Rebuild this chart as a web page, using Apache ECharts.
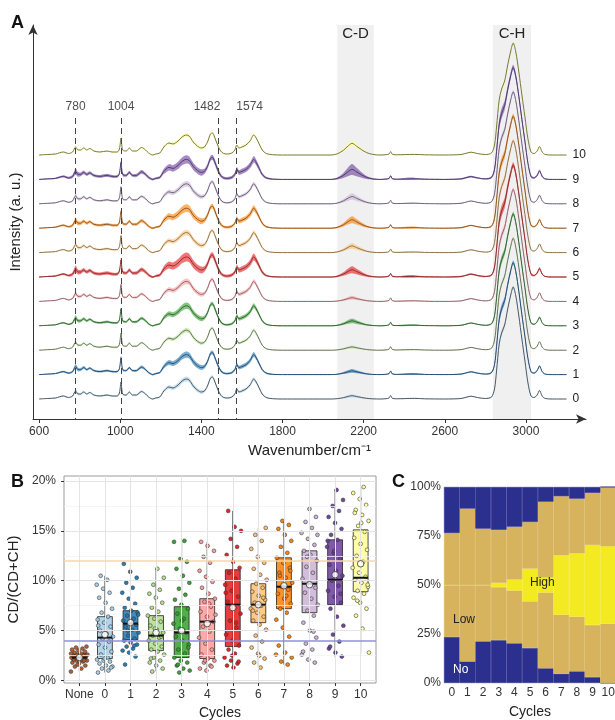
<!DOCTYPE html>
<html><head><meta charset="utf-8">
<script src="https://cdn.jsdelivr.net/npm/echarts@6/dist/echarts.min.js"></script>
<style>html,body{margin:0;padding:0;background:#fff}#c{width:615px;height:720px}</style>
</head><body><div id="c"></div>
<script>
const FONT = '"Liberation Sans", Arial, Helvetica, sans-serif';

// ---------------- Panel A data ----------------
const cycles = ['0','1','2','3','4','5','6','7','8','9','10'];
// [wavenumber, base intensity, C-D profile (0..1), spread]
const spectrumRows = [
[600,0,0,0.3],[640,0.5,0,0.4],[680,1,0,0.5],[720,3,0,0.8],[745,1.5,0,0.8],[765,3,0,1.2],
[780,8,0,2.5],[792,5,0,1.8],[805,5,0,1.5],[820,7,0,1.5],[835,5,0,1.2],[850,6.5,0,1.2],
[870,4,0,1],[900,3,0,1],[935,4,0,1.2],[960,3,0,1],[985,3,0,1],[996,6,0,1.2],[1004,17,0,1.5],
[1012,5,0,1.2],[1030,4,0,1],[1045,7,0,1.2],[1060,4,0,1],[1080,4,0,1.2],[1105,7.5,0,1.5],
[1125,5,0,1.2],[1140,2,0,1],[1160,0,0,0.8],[1175,1,0,0.8],[1195,2,0,1],[1215,8,0,2],
[1240,12,0,2.5],[1260,11,0,2.5],[1285,14,0,2.8],[1305,18,0,3],[1325,20,0,3.2],[1340,19,0,3],
[1360,13,0,2.8],[1380,9,0,2.5],[1400,7,0,2.5],[1415,8,0,2],[1430,13,0,2],[1445,21,0,2],
[1455,22,0,2],[1465,18,0,2.2],[1480,10,0,2],[1495,4,0,1.5],[1510,1.5,0,1],[1530,1,0,1],
[1550,2,0,1.2],[1565,5,0,1.5],[1575,10,0,1.8],[1585,7,0,1.8],[1600,8,0,2],[1620,10,0,2],
[1640,14,0,2.2],[1658,20,0,2.5],[1670,17,0,2.2],[1685,11,0,1.8],[1700,5,0,1.2],[1720,1.5,0,0.8],
[1750,0.3,0,0.5],[1800,0,0,0.4],[1900,0,0,0.4],[2000,0,0,0.4],[2040,0,0,0.4],[2070,0,0.1,0.4],
[2100,0,0.4,0.4],[2125,0,0.8,0.4],[2143,0,1,0.4],[2165,0,0.75,0.4],[2190,0,0.45,0.4],
[2215,0,0.2,0.4],[2245,0,0.05,0.4],[2280,0,0,0.4],[2310,0.3,0,0.4],[2325,1,0,0.5],
[2333,3.5,0,0.6],[2341,0.8,0,0.5],[2360,0.2,0,0.4],[2400,0.4,0,0.8],[2450,0.6,0,0.9],
[2500,0.2,0,0.5],[2600,0,0,0.4],[2680,0.5,0,0.5],[2710,2,0,0.6],[2730,2.8,0,0.6],
[2760,1.5,0,0.5],[2800,0.5,0,0.5],[2830,2,0,0.8],[2845,10,0,2],[2855,28,0,3.5],[2868,55,0,4],
[2880,66,0,4],[2895,74,0,3.5],[2910,90,0,3],[2925,104,0,2.5],[2937,112,0,2],[2950,103,0,2.5],
[2965,83,0,2.5],[2980,60,0,2.5],[2995,38,0,2],[3010,16,0,1.5],[3025,3,0,1],[3040,1.5,0,0.6],
[3055,4,0,0.8],[3067,8.5,0,1],[3080,3,0,0.6],[3095,0.5,0,0.4],[3130,0,0,0.3],[3200,0,0,0.3]
];
const cdPeakHeight = [3.3,3.7,3.3,5,3.7,7.3,6.7,8.5,7.3,10,11.7];
const cdSpread = [1.2,1.5,1.2,2,1.5,3,2.5,3,3,5,3];
const spreadScale = [0.8,1,0.7,1,0.9,1.4,0.9,1.2,0.9,1.3,0.7];
const traceSpacing = 24.4;
const markerBands = [780,1004,1482,1574];
const bandRegions = [['C-D',2070,2250],['C-H',2837,3025]];
const xTicksA = [600,1000,1400,1800,2200,2600,3000];

// ---------------- Panel B data ----------------
const groupNames = ['None','0','1','2','3','4','5','6','7','8','9','10'];
// [min, Q1, median, Q3, max] in %
const boxStats = [
[0.9,2.0,2.3,2.7,3.4],[0.8,2.2,4.3,6.4,10.5],[1.6,4.1,5.7,7.0,11.7],[0.9,3.0,4.5,6.5,11.2],
[0.8,2.3,4.8,7.4,14.0],[1.0,2.2,5.9,8.2,13.9],[1.3,3.4,7.6,11.1,17.0],[1.3,5.8,7.6,9.7,15.3],
[1.6,7.2,9.4,12.3,16.0],[1.8,6.8,9.7,13.0,17.2],[2.4,7.6,10.1,14.1,19.1],[2.8,8.9,10.3,15.1,19.4]
];
const groupMeans = [2.3,4.6,5.8,4.8,5.0,5.7,7.3,7.6,9.5,9.6,10.6,11.7];
const groupPoints = [
[0.9,1.2,1.4,1.5,1.7,1.8,1.9,2.0,2.0,2.1,2.1,2.2,2.2,2.3,2.3,2.3,2.4,2.4,2.5,2.5,2.6,2.6,2.7,2.8,2.9,3.0,3.1,3.2,3.3,3.4,2.2,2.4,2.0,1.6,2.7],
[0.8,1.0,1.2,1.4,1.5,1.7,1.9,2.0,2.1,2.3,2.6,2.9,3.3,3.6,3.9,4.2,4.4,4.7,5.0,5.4,5.8,6.1,6.4,6.8,7.2,7.8,8.3,8.8,9.2,9.6,10.1,10.5,1.3,2.2,5.5],
[1.6,2.4,2.8,3.0,3.2,3.4,3.6,3.8,4.0,4.2,4.5,4.8,5.1,5.4,5.6,5.8,6.0,6.2,6.5,6.8,7.0,7.3,7.7,8.2,8.8,9.3,9.8,10.3,10.9,11.7,3.5,5.0,6.6],
[0.9,1.2,1.5,1.8,2.0,2.3,2.6,2.9,3.1,3.4,3.7,4.0,4.3,4.5,4.8,5.1,5.5,5.9,6.2,6.5,6.9,7.3,7.8,8.3,8.7,9.1,9.6,10.3,11.2,2.2,4.4,5.2],
[0.8,1.0,1.2,1.5,1.8,2.0,2.3,2.7,3.1,3.6,4.0,4.4,4.8,5.2,5.7,6.2,6.7,7.2,7.6,8.1,8.6,9.2,9.8,10.5,11.2,11.9,12.2,13.9,14.0,1.6,3.3,6.0],
[1.0,1.2,1.5,1.8,2.0,2.2,2.6,3.1,3.7,4.3,4.9,5.4,5.9,6.4,6.9,7.4,7.9,8.2,8.7,9.3,9.9,10.4,11.0,11.8,12.4,13.0,13.5,13.9,1.4,2.0,6.6,7.7],
[1.3,1.5,1.7,2.0,2.3,2.7,3.1,3.5,4.0,4.6,5.3,6.0,6.7,7.3,7.9,8.4,9.0,9.6,10.2,10.8,11.3,11.9,12.6,13.4,14.2,15.0,15.4,17.0,1.9,2.5,8.8,5.8],
[1.3,1.8,2.2,2.7,3.3,3.9,4.5,5.1,5.6,6.0,6.4,6.8,7.2,7.5,7.8,8.1,8.5,8.9,9.3,9.7,10.1,10.6,11.2,11.8,12.4,13.2,14.0,14.6,15.3,2.5,7.0,8.3],
[1.6,1.9,2.3,2.8,3.5,4.4,5.3,6.1,6.8,7.2,7.7,8.2,8.7,9.1,9.4,9.8,10.3,10.8,11.3,11.8,12.3,12.8,13.4,14.0,14.6,15.2,15.6,16.0,2.6,8.5,10.5,11.0],
[1.8,2.1,2.6,3.1,3.7,4.3,5.0,5.8,6.5,7.0,7.6,8.2,8.8,9.3,9.7,10.2,10.8,11.4,12.0,12.6,13.0,13.6,14.2,14.8,15.3,15.9,16.4,17.2,2.9,4.9,12.4,14.6],
[2.4,2.8,3.2,3.9,4.6,5.5,6.4,7.2,7.8,8.4,9.0,9.5,10.0,10.5,11.0,11.6,12.2,12.8,13.4,14.1,14.6,15.2,15.8,16.4,17.0,17.5,18.1,19.1,3.4,8.7,13.0,14.0],
[2.8,5.2,6.5,7.2,7.8,8.3,8.7,9.0,9.4,9.8,10.1,10.4,10.8,11.3,11.9,12.5,13.1,13.7,14.3,14.9,15.5,16.0,16.6,17.1,17.6,18.2,18.8,19.4,8.0,9.6,15.8,16.8]
];
const thresholdLow = 4;
const thresholdHigh = 12;
const yTicksB = [0,5,10,15,20];

// ---------------- Panel C data ----------------
const cycleLabelsC = ['0','1','2','3','4','5','6','7','8','9','10'];
const noPct   = [47,22,42.5,43.7,40.5,35.7,15,9.4,11.9,6,0];
const highPct = [0,0,0,2.2,5.6,16.7,7.7,30.3,32.3,40.8,39.5];

// ---------------- styles ----------------
const paired = ['#a6cee3','#1f78b4','#b2df8a','#33a02c','#fb9a99','#e31a1c','#fdbf6f','#ff7f00','#cab2d6','#6a3d9a','#ffff99','#b15928'];
const ribbonColors = paired.slice(0,11);
const lineColors = ['#4d5a66','#2c4a6b','#66735a','#36603a','#8a6870','#8c2f2f','#8a7352','#8a5626','#6d6478','#4b3a6e','#77773c'];
const groupColors = ['#b15928'].concat(paired.slice(0,11));
function rgba(hex,a){const n=parseInt(hex.slice(1),16);return `rgba(${n>>16&255},${n>>8&255},${n&255},${a})`;}

const chart = echarts.init(document.getElementById('c'), null, {renderer:'canvas'});
const series = [];

// Panel A helpers
series.push({
  type:'line', xAxisIndex:0, yAxisIndex:0, data:[[600,0]], symbol:'none', lineStyle:{opacity:0}, silent:true, z:1,
  markArea:{silent:true, itemStyle:{color:'#f0f0f0'},
    label:{show:true, position:'insideTop', distance:1, color:'#222', fontSize:15, fontFamily:FONT},
    data: bandRegions.map(b=>[{name:b[0], xAxis:b[1], yAxis:374},{xAxis:b[2], yAxis:-20}])}
});
series.push({
  type:'line', xAxisIndex:0, yAxisIndex:0, data:[[600,0]], symbol:'none', lineStyle:{opacity:0}, silent:true, z:6,
  markLine:{silent:true, symbol:['none','none'], label:{show:false}, animation:false,
    lineStyle:{color:'#444', type:[6,4], width:1},
    data: markerBands.map(w=>[{coord:[w,281]},{coord:[w,-20]}])}
});
series.push({
  type:'scatter', xAxisIndex:0, yAxisIndex:0, symbolSize:0, silent:true, z:6,
  data: markerBands.map((w,i)=>({value:[w,292], label:{offset:[[0,0],[0,0],[-11,0],[13,0]][i]}})),
  label:{show:true, position:'inside', formatter:p=>String(p.value[0]), color:'#222', fontSize:12, fontFamily:FONT}
});

cycles.forEach((name,i)=>{
  const off = i*traceSpacing;
  const mean = spectrumRows.map(r=>[r[0], off + r[1] + r[2]*cdPeakHeight[i]]);
  const sd = spectrumRows.map(r=>r[3]*spreadScale[i] + r[2]*cdSpread[i]);
  const upper = mean.map((p,k)=>[p[0], p[1]+sd[k]]);
  const lower = mean.map((p,k)=>[p[0], p[1]-sd[k]]);
  series.push({type:'custom', xAxisIndex:0, yAxisIndex:0, z:2, silent:true,
    data:[[mean[0][0], mean[0][1]]], encode:{x:0,y:1},
    renderItem:(params, api)=>{
      const pts = upper.map(p=>api.coord(p)).concat(lower.slice().reverse().map(p=>api.coord(p)));
      return {type:'polygon', shape:{points:pts, smooth:0.3}, style:{fill:rgba(ribbonColors[i],0.6)}};
    }});
  series.push({type:'line', name:name, xAxisIndex:0, yAxisIndex:0, symbol:'none', smooth:0.3, silent:true, z:3,
    lineStyle:{color:lineColors[i], width:1}, data: mean,
    endLabel:{show:true, formatter:name, color:'#222', fontSize:12, fontFamily:FONT, distance:6}});
});

// Panel B
const gridMajorY = yTicksB;
const gridMinorY = [2.5,7.5,12.5,17.5];
series.push({
  type:'line', xAxisIndex:1, yAxisIndex:1, data:[], symbol:'none', silent:true, z:1,
  markLine:{silent:true, symbol:['none','none'], label:{show:false}, animation:false,
    data: gridMajorY.map(v=>({yAxis:v, lineStyle:{color:'#e4e4e4', width:1, type:'solid'}}))
      .concat(gridMinorY.map(v=>({yAxis:v, lineStyle:{color:'#f2f2f2', width:0.8, type:'solid'}})))
      .concat(groupNames.map((n,i)=>({xAxis:i, lineStyle:{color:'#e4e4e4', width:1, type:'solid'}})))}
});
series.push({
  type:'custom', xAxisIndex:1, yAxisIndex:1, z:2, silent:true,
  data: boxStats.map((s,i)=>[i].concat(s)),
  encode:{x:0, y:[1,5]},
  renderItem:(params, api)=>{
    const x = api.value(0);
    const lo = api.coord([x, api.value(1)]), q1 = api.coord([x, api.value(2)]);
    const q3 = api.coord([x, api.value(4)]), hi = api.coord([x, api.value(5)]);
    const w = api.size([0.58,0])[0];
    const c = groupColors[params.dataIndex];
    return {type:'group', children:[
      {type:'line', shape:{x1:lo[0],y1:lo[1],x2:hi[0],y2:hi[1]}, style:{stroke:'#222', lineWidth:0.8}},
      {type:'rect', shape:{x:q3[0]-w/2, y:q3[1], width:w, height:q1[1]-q3[1]}, style:{fill:rgba(c,0.85), stroke:'#222', lineWidth:0.8}}
    ]};
  }
});
series.push({
  type:'line', xAxisIndex:1, yAxisIndex:1, data:[], symbol:'none', silent:true, z:3,
  markLine:{silent:true, symbol:['none','none'], label:{show:false}, animation:false,
    data:[{yAxis:thresholdHigh, lineStyle:{color:'#f5d9a8', width:1.5, type:'solid'}},
          {yAxis:thresholdLow, lineStyle:{color:'#8f8fdc', width:1.5, type:'solid'}}]}
});
const jit = k => ((((k*0.6180339887) % 1) - 0.5) * 0.66);
const pts = [];
groupPoints.forEach((arr,g)=>arr.forEach((v,k)=>pts.push([g + jit(k + g*5), v, g])));
series.push({
  type:'scatter', xAxisIndex:1, yAxisIndex:1, z:4, silent:true, symbolSize:3.8, data:pts,
  itemStyle:{color:p=>groupColors[p.value[2]], borderColor:'#333', borderWidth:0.6, opacity:0.95}
});
series.push({
  type:'custom', xAxisIndex:1, yAxisIndex:1, z:5, silent:true,
  data: boxStats.map((s,i)=>[i, s[2]]),
  encode:{x:0, y:1},
  renderItem:(params, api)=>{
    const p = api.coord([api.value(0), api.value(1)]);
    const w = api.size([0.58,0])[0];
    return {type:'line', shape:{x1:p[0]-w/2, y1:p[1], x2:p[0]+w/2, y2:p[1]}, style:{stroke:'#111', lineWidth:2}};
  }
});
series.push({
  type:'scatter', xAxisIndex:1, yAxisIndex:1, z:6, silent:true, symbolSize:6.5,
  data: groupMeans.map((m,i)=>[i,m]),
  itemStyle:{color:'#ffffff', borderColor:'#333', borderWidth:1}
});

// Panel C
const lowPct = noPct.map((n,i)=>100 - n - highPct[i]);
const colC = {no:'#2b2f8d', low:'#d6b35c', high:'#f3ea22'};
[[noPct.map(v=>v/2), colC.no],[lowPct.map(v=>v/2), colC.low],[highPct, colC.high],
 [lowPct.map(v=>v/2), colC.low],[noPct.map(v=>v/2), colC.no]].forEach(([d,c])=>{
  series.push({type:'bar', xAxisIndex:2, yAxisIndex:2, stack:'c', data:d, barCategoryGap:'0%', barGap:'0%',
    itemStyle:{color:c, borderColor:c, borderWidth:0.6}, silent:true});
});

const axisTxt = {color:'#333', fontFamily:FONT};
const option = {
  animation:false,
  textStyle:{fontFamily:FONT},
  grid:[
    {left:33, top:25, width:553, height:394, outerBoundsMode:'none'},
    {left:64, top:476, width:312, height:207, show:true, borderColor:'#9a9a9a', borderWidth:1, backgroundColor:'#fff', outerBoundsMode:'none'},
    {left:444, top:487, width:172, height:196, outerBoundsMode:'none'}
  ],
  xAxis:[
    {type:'value', gridIndex:0, min:570, max:3296,
     name:'Wavenumber/cm\u207B\u00B9', nameLocation:'middle', nameGap:22, nameTextStyle:{...axisTxt, fontSize:15, color:'#222'},
     axisLine:{show:true, onZero:false, symbol:['none','arrow'], symbolSize:[7,10], lineStyle:{color:'#333', width:1}},
     axisTick:{show:true, customValues:xTicksA, length:4, lineStyle:{color:'#333'}},
     axisLabel:{customValues:xTicksA, formatter:v=>String(v), margin:7, fontSize:12, ...axisTxt},
     splitLine:{show:false}},
    {type:'value', gridIndex:1, min:-0.6, max:11.6,
     name:'Cycles', nameLocation:'middle', nameGap:23, nameTextStyle:{...axisTxt, fontSize:14, color:'#222'},
     axisLine:{show:false, onZero:false},
     axisTick:{show:true, customValues:groupNames.map((n,i)=>i), length:3, lineStyle:{color:'#333'}},
     axisLabel:{customValues:groupNames.map((n,i)=>i), formatter:v=>groupNames[Math.round(v)], margin:6, fontSize:12, ...axisTxt},
     splitLine:{show:false}},
    {type:'category', gridIndex:2, data:cycleLabelsC,
     name:'Cycles', nameLocation:'middle', nameGap:22, nameTextStyle:{...axisTxt, fontSize:14, color:'#222'},
     axisLine:{show:false, onZero:false}, axisTick:{show:false},
     axisLabel:{margin:4, fontSize:12, ...axisTxt, interval:0}}
  ],
  yAxis:[
    {type:'value', gridIndex:0, min:-20, max:374,
     name:'Intensity (a. u.)', nameLocation:'middle', nameGap:10, nameRotate:90, nameTextStyle:{...axisTxt, fontSize:15, color:'#222'},
     axisLine:{show:true, onZero:false, symbol:['none','arrow'], symbolSize:[7,10], lineStyle:{color:'#333', width:1}},
     axisTick:{show:false}, axisLabel:{show:false}, splitLine:{show:false}},
    {type:'value', gridIndex:1, min:-0.25, max:20.5,
     name:'CD/(CD+CH)', nameLocation:'middle', nameGap:39, nameRotate:90, nameTextStyle:{...axisTxt, fontSize:15, color:'#222'},
     axisLine:{show:false, onZero:false},
     axisTick:{show:true, customValues:yTicksB, length:3, lineStyle:{color:'#333'}},
     axisLabel:{customValues:yTicksB, formatter:v=>v+'%', margin:8, fontSize:12, ...axisTxt},
     splitLine:{show:false}},
    {type:'value', gridIndex:2, min:0, max:100, interval:25,
     axisLine:{show:false, onZero:false}, axisTick:{show:false},
     axisLabel:{formatter:'{value}%', margin:3, fontSize:12, ...axisTxt},
     splitLine:{show:false}}
  ],
  graphic:[
    {type:'text', left:11, top:14, style:{text:'A', font:'bold 18px '+FONT, fill:'#111'}},
    {type:'text', left:11, top:473, style:{text:'B', font:'bold 18px '+FONT, fill:'#111'}},
    {type:'text', left:392, top:473, style:{text:'C', font:'bold 18px '+FONT, fill:'#111'}},
    {type:'text', left:453, top:664, z:100, style:{text:'No', font:'12px '+FONT, fill:'#ffffff'}},
    {type:'text', left:453, top:614, z:100, style:{text:'Low', font:'12px '+FONT, fill:'#222'}},
    {type:'text', left:530, top:577, z:100, style:{text:'High', font:'12px '+FONT, fill:'#222'}}
  ],
  series: series
};
chart.setOption(option);
</script></body></html>
